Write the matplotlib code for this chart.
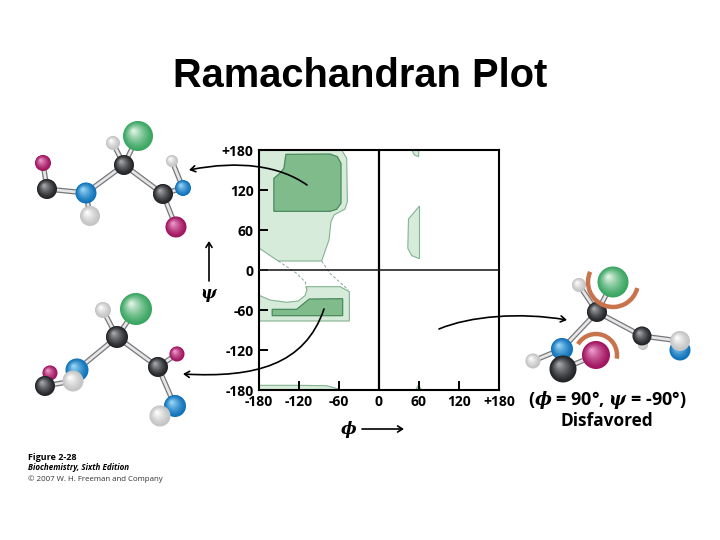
import numpy as np
import matplotlib
matplotlib.use("Agg")
import matplotlib.pyplot as plt
from matplotlib import font_manager as fm
from matplotlib.patches import Circle, Arc, FancyArrowPatch
from matplotlib.path import Path
from matplotlib.colors import to_rgb

plt.rcParams['font.family'] = ['Open Sans', 'DejaVu Sans']
plt.rcParams['mathtext.fontset'] = 'custom'
plt.rcParams['mathtext.it'] = 'DejaVu Serif:italic:bold'
plt.rcParams['mathtext.rm'] = 'Open Sans:bold'
plt.rcParams['mathtext.bf'] = 'Open Sans:bold'

# ---- chart data (phi, psi in degrees) ----
tick_values = [-180, -120, -60, 0, 60, 120, 180]
tick_labels = ['-180', '-120', '-60', '0', '60', '120', '+180']
y_tick_labels = ['-180', '-120', '-60', '0', '60', '120', '+180']

light_beta_phi = [-180, -55.5, -48, -47, -50.5, -67, -71.5, -74.5, -85.5, -150.5, -180]
light_beta_psi = [180, 180, 167.5, 102.5, 91.5, 82.5, 72.5, 45, 13.5, 13.5, 33.5]
dark_beta_phi = [-139, -73, -62, -56.5, -56.5, -63, -73, -157, -157, -148, -142]
dark_beta_psi = [173.5, 174, 170, 160, 100, 91, 88, 88, 137.5, 145, 152.5]
light_alpha_phi = [-109, -58, -44, -44, -180, -180, -163, -138, -120.5, -110.5, -107.5]
light_alpha_psi = [-25, -25, -32.5, -76.5, -76.5, -37.5, -45, -48.5, -46.5, -38.5, -30]
dark_alpha_phi = [-159.5, -123, -104, -54, -54, -159.5]
dark_alpha_psi = [-59, -59, -43.5, -43, -68.5, -68.5]
light_bottom_phi = [-180, -123, -78, -60.5, -60.5, -180]
light_bottom_psi = [-173, -173, -173.5, -178.5, -180, -180]
light_bottom2_phi = [55, 59.5, 64.5]
light_bottom2_psi = [-180, -172.5, -180]
light_top2_phi = [49.5, 53.5, 59.5, 60]
light_top2_psi = [180, 172.5, 170, 180]
light_left_phi = [61, 44.5, 43.5, 49.5, 61]
light_left_psi = [96, 76.5, 32.5, 21.5, 17]
dash1_phi = [-150.5, -123, -110, -107.5]
dash1_psi = [13.5, -5, -18, -30]
dash2_phi = [-85.5, -73, -45.5]
dash2_psi = [13.5, -5, -30]

LIGHT, LIGHT_E = '#d6ebd9', '#84b392'
DARK, DARK_E = '#80bb8c', '#4a8a5c'
W, H = 720, 540

fig = plt.figure(figsize=(7.2, 5.4), dpi=100, facecolor='white')
L, R, T, B = 258.5, 499, 150, 390
ax = fig.add_axes([L / W, 1 - B / H, (R - L) / W, (B - T) / H])
ax.set_xlim(-180, 180)
ax.set_ylim(-180, 180)

for px, py in [(light_beta_phi, light_beta_psi), (light_alpha_phi, light_alpha_psi),
               (light_bottom_phi, light_bottom_psi), (light_bottom2_phi, light_bottom2_psi),
               (light_top2_phi, light_top2_psi), (light_left_phi, light_left_psi)]:
    ax.fill(px, py, facecolor=LIGHT, edgecolor=LIGHT_E, lw=0.8, zorder=1)
for px, py in [(dark_beta_phi, dark_beta_psi), (dark_alpha_phi, dark_alpha_psi)]:
    ax.fill(px, py, facecolor=DARK, edgecolor=DARK_E, lw=0.9, zorder=2)
for px, py in [(dash1_phi, dash1_psi), (dash2_phi, dash2_psi)]:
    ax.plot(px, py, color='#8aa596', lw=0.7, ls=(0, (3, 2)), zorder=2)

ax.axvline(0, color='black', lw=1.6, zorder=3)
ax.axhline(0, color='#222222', lw=1.2, zorder=3)
ax.set_xticks(tick_values)
ax.set_xticklabels(tick_labels)
ax.set_yticks(tick_values)
ax.set_yticklabels(y_tick_labels)
ax.tick_params(direction='in', length=6.5, width=1.4, color='black', pad=3.5,
               labelsize=10)
for lab in ax.get_xticklabels() + ax.get_yticklabels():
    lab.set_fontweight('bold')
for s in ax.spines.values():
    s.set_linewidth(1.5)

# ---- overlay in pixel space for illustration ----
ov = fig.add_axes([0, 0, 1, 1], facecolor='none')
ov.set_xlim(0, W)
ov.set_ylim(H, 0)
ov.axis('off')

PAL = {'C': ('#232427', '#a9aaad'), 'G': ('#3aa662', '#e3f4e6'), 'P': ('#a0145f', '#ee9ccb'),
       'N': ('#0f72ba', '#9bd8f7'), 'H': ('#c4c4c4', '#ffffff')}
layer = [10]


def sphere(kind, x, y, r):
    c0, c1 = np.array(to_rgb(PAL[kind][0])), np.array(to_rgb(PAL[kind][1]))
    n = 18
    for i in range(n):
        f = i / (n - 1)
        rr = r * (1 - f * 0.93)
        layer[0] += 0.01
        ov.add_patch(Circle((x - 0.3 * r * f, y - 0.35 * r * f), rr,
                            color=c0 + (c1 - c0) * f ** 1.3, lw=0, zorder=layer[0]))


def bond(p, q):
    xs, ys = [p[0], q[0]], [p[1], q[1]]
    ov.plot(xs, ys, color='#77777a', lw=3.8, solid_capstyle='round', zorder=5)
    ov.plot(xs, ys, color='#e6e6e8', lw=2.0, solid_capstyle='round', zorder=5.1)


def molecule(atoms, bonds):
    for a, b in bonds:
        bond(atoms[a][1:3], atoms[b][1:3])
    for at in atoms:
        sphere(*at)


mol1 = [('G', 138, 136, 15), ('H', 113, 143, 7), ('C', 124, 165, 10), ('P', 43, 163, 8),
        ('C', 47, 189, 10), ('N', 86, 193, 10.5), ('H', 90, 216, 10), ('C', 163, 194, 10),
        ('N', 183, 188, 8), ('H', 172, 161, 6), ('P', 176, 227, 10.5)]
mol1_b = [(0, 2), (1, 2), (2, 5), (2, 7), (3, 4), (4, 5), (5, 6), (7, 8), (8, 9), (7, 10)]
molecule(mol1, mol1_b)

mol2 = [('P', 50, 373, 7.5), ('G', 136, 309, 16), ('H', 103, 310, 8), ('C', 117, 337, 11),
        ('P', 177, 354, 7.5), ('C', 158, 367, 10), ('N', 77, 370, 11.5), ('H', 73, 381, 10.5),
        ('C', 45, 386, 10), ('N', 175, 406, 11), ('H', 160, 416, 10.5)]
mol2_b = [(1, 3), (2, 3), (3, 5), (3, 6), (5, 4), (5, 9), (9, 10), (6, 7), (7, 8), (0, 8)]
molecule(mol2, mol2_b)

mol3 = [('G', 613, 282, 15.5), ('H', 579, 285, 7), ('C', 597, 312, 10), ('H', 643, 345, 5),
        ('C', 642, 336, 9.5), ('N', 680, 350, 10.5), ('H', 680, 341, 10), ('N', 562, 349, 11),
        ('H', 533, 361, 7.5), ('P', 596, 355, 14), ('C', 563, 369, 13.5)]
mol3_b = [(0, 2), (1, 2), (2, 4), (2, 7), (4, 6), (7, 8), (10, 9), (7, 10)]
molecule(mol3, mol3_b)

ORANGE = '#c9734d'
ov.add_patch(Arc((613, 282), 50, 50, theta1=14, theta2=204, color=ORANGE, lw=3.2, zorder=20))
ov.add_patch(Arc((596, 355), 42, 42, theta1=211, theta2=370, color=ORANGE, lw=3.2, zorder=20))


def curve(p0, c1, c2, p1):
    path = Path([p0, c1, c2, p1], [Path.MOVETO, Path.CURVE4, Path.CURVE4, Path.CURVE4])
    ov.add_patch(FancyArrowPatch(path=path, arrowstyle='->,head_length=3.5,head_width=2.2',
                                 color='black', lw=1.2, shrinkA=0, shrinkB=0, zorder=30))


curve((307, 185), (280, 166), (240, 160), (189, 170))
curve((324, 309), (305, 365), (255, 378), (183, 374))
curve((439, 329), (470, 316), (520, 312), (567, 320))
curve((362, 429), (375, 429), (390, 429), (404, 429))
curve((209, 281), (209, 268), (209, 255), (209, 241))

# ---- text ----
title_font = fm.FontProperties(family='Liberation Sans', weight='bold', stretch='normal')
for f in fm.fontManager.ttflist:
    if f.fname.endswith('LiberationSans-Bold.ttf'):
        title_font = fm.FontProperties(fname=f.fname)
        break
title_font.set_size(28.7)
ov.text(360, 76, 'Ramachandran Plot', fontproperties=title_font,
        ha='center', va='center', color='black')
ov.text(349, 429, r'$\phi$', fontsize=12, ha='center', va='center')
ov.text(209, 296, r'$\psi$', fontsize=12, ha='center', va='center')
ov.text(607, 400, r'($\phi$ = 90°, $\psi$ = -90°)', fontsize=13, weight='bold',
        ha='center', va='center')
ov.text(607, 421, 'Disfavored', fontsize=12.4, weight='bold', ha='center', va='center')
ov.text(28, 457, 'Figure 2-28', fontsize=6.5, weight='bold', ha='left', va='center')
ov.text(28, 468, 'Biochemistry, Sixth Edition', fontsize=5.8, weight='bold', style='italic',
        ha='left', va='center')
ov.text(28, 479, '© 2007 W. H. Freeman and Company', fontsize=5.65, ha='left', va='center',
        color='#333333')

fig.savefig('out.png', dpi=100, facecolor='white')
